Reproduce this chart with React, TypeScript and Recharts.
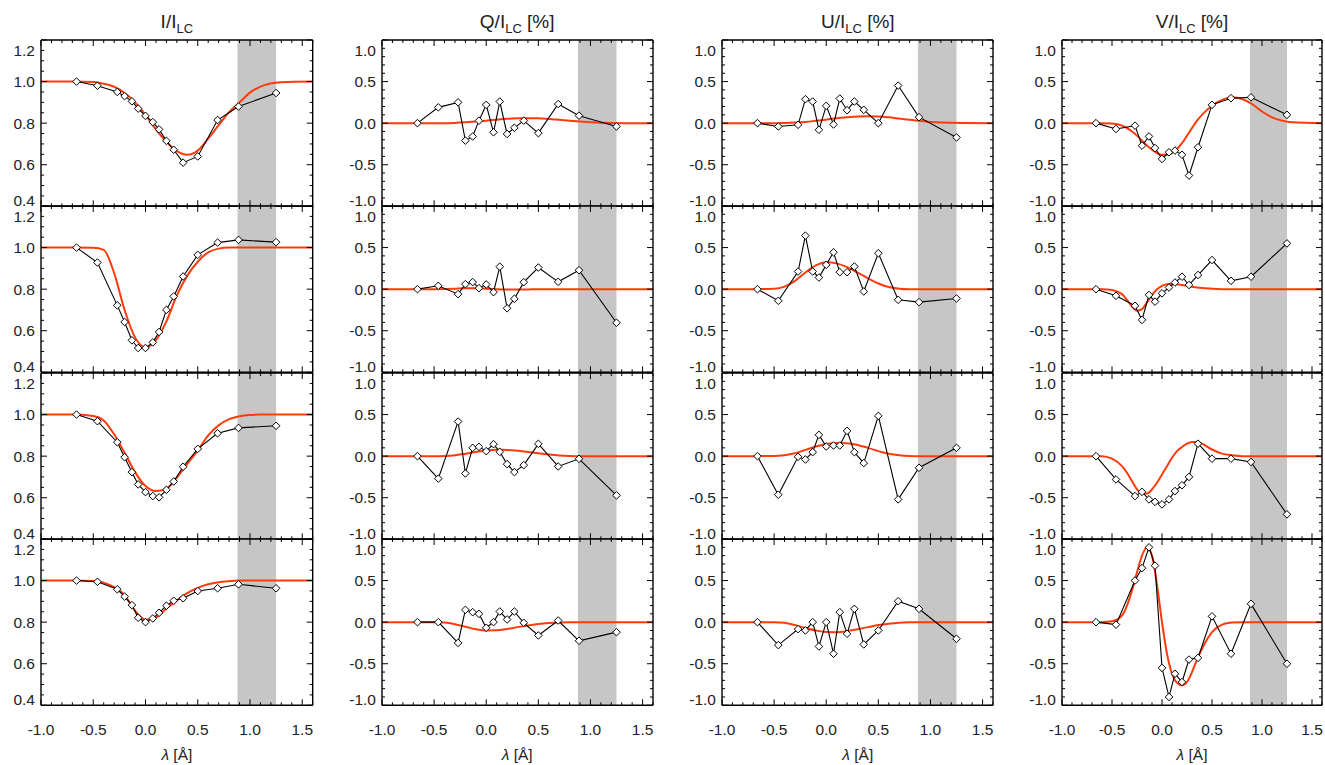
import React from 'react';
import { ComposedChart, Line, XAxis, YAxis, ReferenceArea } from 'recharts';

// ---------- data ----------
const LAMBDA = [-0.66, -0.46, -0.27, -0.2, -0.13, -0.07, 0.0, 0.07, 0.13, 0.2, 0.27, 0.36, 0.5, 0.69, 0.89, 1.25];
const FIT_X = [-1.0, -0.7, -0.5, -0.4, -0.3, -0.2, -0.1, 0.0, 0.1, 0.2, 0.3, 0.4, 0.5, 0.6, 0.7, 0.8, 0.9, 1.0, 1.1, 1.3, 1.6];
const FIT_XV = [-1.0, -0.6, -0.5, -0.4, -0.35, -0.3, -0.25, -0.2, -0.15, -0.1, -0.05, 0, 0.05, 0.1, 0.15, 0.2, 0.25, 0.3, 0.35, 0.4, 0.5, 0.6, 0.7, 0.8, 0.9, 1.0, 1.1, 1.2, 1.3, 1.6];

const I_OBS_1 = [1.0, 0.98, 0.95, 0.93, 0.905, 0.87, 0.835, 0.805, 0.77, 0.715, 0.672, 0.61, 0.64, 0.815, 0.88, 0.945];
const I_OBS_2 = [1.0, 0.928, 0.722, 0.642, 0.554, 0.517, 0.517, 0.544, 0.594, 0.7, 0.765, 0.861, 0.965, 1.024, 1.037, 1.026];
const I_OBS_3 = [1.0, 0.968, 0.867, 0.795, 0.723, 0.664, 0.627, 0.608, 0.602, 0.638, 0.678, 0.749, 0.835, 0.91, 0.936, 0.946];
const I_OBS_4 = [1.0, 0.994, 0.958, 0.923, 0.882, 0.821, 0.8, 0.818, 0.845, 0.879, 0.903, 0.915, 0.95, 0.963, 0.982, 0.963];

const I_FIT_1 = [1.0, 1.0, 0.998, 0.99, 0.975, 0.945, 0.9, 0.84, 0.77, 0.71, 0.665, 0.648, 0.668, 0.725, 0.79, 0.853, 0.9, 0.947, 0.976, 0.997, 1.0];
const I_FIT_2 = [1.0, 1.0, 0.999, 0.989, 0.877, 0.7, 0.568, 0.52, 0.555, 0.645, 0.77, 0.865, 0.932, 0.977, 0.995, 1.0, 1.0, 1.0, 1.0, 1.0, 1.0];
const I_FIT_3 = [1.0, 1.0, 0.993, 0.972, 0.905, 0.816, 0.723, 0.656, 0.632, 0.643, 0.697, 0.763, 0.827, 0.9, 0.948, 0.978, 0.992, 0.998, 1.0, 1.0, 1.0];
const I_FIT_4 = [1.0, 1.0, 0.998, 0.99, 0.968, 0.93, 0.855, 0.812, 0.822, 0.866, 0.905, 0.94, 0.965, 0.982, 0.992, 0.997, 1.0, 1.0, 1.0, 1.0, 1.0];

const Q_OBS_1 = [0.0, 0.19, 0.25, -0.21, -0.16, 0.03, 0.22, -0.11, 0.26, -0.13, -0.056, 0.03, -0.12, 0.23, 0.09, -0.04];
const Q_OBS_2 = [0.0, 0.04, -0.06, 0.06, 0.085, 0.012, 0.056, -0.036, 0.27, -0.23, -0.116, 0.084, 0.26, 0.088, 0.228, -0.404];
const Q_OBS_3 = [0.0, -0.27, 0.416, -0.208, 0.1, 0.112, 0.06, 0.144, 0.052, -0.096, -0.192, -0.108, 0.148, -0.124, -0.032, -0.472];
const Q_OBS_4 = [0.0, 0.0, -0.25, 0.148, 0.12, 0.1, -0.068, 0.0, 0.128, 0.032, 0.128, -0.008, -0.16, 0.02, -0.224, -0.12];

const Q_FIT_1 = [0, 0, 0, 0, 0.003, 0.01, 0.02, 0.03, 0.042, 0.052, 0.058, 0.06, 0.058, 0.05, 0.04, 0.03, 0.02, 0.01, 0.004, 0, 0];
const Q_FIT_2 = [0, 0, 0, 0.002, 0.006, 0.01, 0.01, 0.006, 0.0, -0.004, -0.005, -0.003, -0.001, 0, 0, 0, 0, 0, 0, 0, 0];
const Q_FIT_3 = [0, 0, 0, 0.003, 0.012, 0.03, 0.05, 0.068, 0.076, 0.075, 0.065, 0.05, 0.036, 0.02, 0.008, 0.002, 0, 0, 0, 0, 0];
const Q_FIT_4 = [0, 0, 0, -0.005, -0.025, -0.055, -0.085, -0.1, -0.098, -0.082, -0.06, -0.04, -0.022, -0.01, -0.003, 0, 0, 0, 0, 0, 0];

const U_OBS_1 = [0.0, -0.04, -0.02, 0.288, 0.26, -0.08, 0.208, -0.016, 0.296, 0.156, 0.26, 0.16, 0.0, 0.452, 0.072, -0.172];
const U_OBS_2 = [0.0, -0.14, 0.212, 0.644, 0.212, 0.14, 0.292, 0.444, 0.204, 0.204, 0.272, -0.028, 0.432, -0.128, -0.156, -0.112];
const U_OBS_3 = [0.0, -0.464, -0.008, -0.04, 0.048, 0.256, 0.116, 0.128, 0.128, 0.304, 0.048, -0.084, 0.484, -0.52, -0.14, 0.1];
const U_OBS_4 = [0.0, -0.276, -0.084, -0.1, 0.0, -0.292, 0.0, -0.38, 0.12, -0.14, 0.16, -0.268, -0.1, 0.252, 0.16, -0.2];

const U_FIT_1 = [0, 0, 0, 0.003, 0.008, 0.015, 0.028, 0.042, 0.058, 0.07, 0.08, 0.082, 0.08, 0.07, 0.055, 0.04, 0.028, 0.015, 0.007, 0.001, 0];
const U_FIT_2 = [0, 0, 0.004, 0.03, 0.1, 0.2, 0.285, 0.324, 0.31, 0.265, 0.2, 0.13, 0.068, 0.025, 0.006, 0, 0, 0, 0, 0, 0];
const U_FIT_3 = [0, 0, 0.002, 0.012, 0.035, 0.075, 0.115, 0.145, 0.157, 0.155, 0.135, 0.1, 0.06, 0.028, 0.01, 0.002, 0, 0, 0, 0, 0];
const U_FIT_4 = [0, 0, 0, -0.008, -0.035, -0.07, -0.1, -0.118, -0.12, -0.108, -0.085, -0.06, -0.035, -0.018, -0.007, -0.002, 0, 0, 0, 0, 0];

const V_OBS_1 = [0.0, -0.07, -0.03, -0.27, -0.16, -0.3, -0.43, -0.35, -0.33, -0.38, -0.63, -0.29, 0.22, 0.3, 0.31, 0.1];
const V_OBS_2 = [0.0, -0.08, -0.2, -0.37, -0.07, -0.15, -0.05, 0.02, 0.08, 0.15, 0.05, 0.17, 0.35, 0.1, 0.15, 0.55];
const V_OBS_3 = [0.0, -0.28, -0.48, -0.43, -0.52, -0.55, -0.58, -0.52, -0.42, -0.35, -0.25, 0.15, -0.03, -0.03, -0.07, -0.7];
const V_OBS_4 = [0.0, -0.03, 0.5, 0.65, 0.9, 0.68, -0.55, -0.9, -0.62, -0.72, -0.45, -0.43, 0.07, -0.38, 0.22, -0.5];

const V_FIT_1 = [0, 0, -0.005, -0.03, -0.06, -0.1, -0.15, -0.21, -0.27, -0.32, -0.36, -0.38, -0.38, -0.36, -0.31, -0.24, -0.15, -0.06, 0.03, 0.1, 0.21, 0.28, 0.31, 0.29, 0.23, 0.14, 0.07, 0.03, 0.01, 0];
const V_FIT_2 = [0, 0, -0.01, -0.06, -0.13, -0.21, -0.26, -0.24, -0.16, -0.07, 0.0, 0.04, 0.06, 0.065, 0.06, 0.05, 0.04, 0.03, 0.02, 0.015, 0.005, 0, 0, 0, 0, 0, 0, 0, 0, 0];
const V_FIT_3 = [0, 0, -0.03, -0.12, -0.2, -0.3, -0.4, -0.45, -0.45, -0.4, -0.32, -0.22, -0.12, -0.02, 0.06, 0.11, 0.15, 0.17, 0.17, 0.15, 0.08, 0.03, 0.01, 0, 0, 0, 0, 0, 0, 0];
const V_FIT_4 = [0, 0, 0.01, 0.08, 0.2, 0.38, 0.6, 0.8, 0.9, 0.8, 0.45, 0.0, -0.38, -0.62, -0.73, -0.76, -0.72, -0.6, -0.45, -0.32, -0.12, -0.03, -0.005, 0, 0, 0, 0, 0, 0, 0];

const BAND = [0.88, 1.25];
const X_DOMAIN = [-1.0, 1.6];
const X_TICKS = [-1.0, -0.9, -0.8, -0.7, -0.6, -0.5, -0.4, -0.3, -0.2, -0.1, 0.0, 0.1, 0.2, 0.3, 0.4, 0.5, 0.6, 0.7, 0.8, 0.9, 1.0, 1.1, 1.2, 1.3, 1.4, 1.5, 1.6];
const Y_TICKS_I = [0.4, 0.45, 0.5, 0.55, 0.6, 0.65, 0.7, 0.75, 0.8, 0.85, 0.9, 0.95, 1.0, 1.05, 1.1, 1.15, 1.2];
const Y_TICKS_P = [-1.0, -0.9, -0.8, -0.7, -0.6, -0.5, -0.4, -0.3, -0.2, -0.1, 0.0, 0.1, 0.2, 0.3, 0.4, 0.5, 0.6, 0.7, 0.8, 0.9, 1.0];

const TITLES = [
  { main: 'I/I', sub: 'LC', tail: '' },
  { main: 'Q/I', sub: 'LC', tail: ' [%]' },
  { main: 'U/I', sub: 'LC', tail: ' [%]' },
  { main: 'V/I', sub: 'LC', tail: ' [%]' },
];

// ---------- layout ----------
const COL_LEFT = [41, 381.7, 722.3, 1062];
const COL_RIGHT = [312.7, 652.7, 993.3, 1322];
const ROW_TOP = [40, 206.3, 372.6, 538.9];
const ROW_H = 166.3;
const FONT = "'Liberation Sans', Arial, Helvetica, sans-serif";
const RED = '#ff3b0b';
const LABEL_SIZE = 15.5;

const pts = (xs: number[], ys: number[]) => xs.map((x, i) => ({ x, y: ys[i] }));
const isMajor = (v: number, step: number) => Math.abs(v / step - Math.round(v / step)) < 1e-6;

const COLUMNS = [
  { obs: [I_OBS_1, I_OBS_2, I_OBS_3, I_OBS_4], fit: [I_FIT_1, I_FIT_2, I_FIT_3, I_FIT_4], fx: FIT_X, domain: [0.4, 1.2], ticks: Y_TICKS_I, step: 0.2 },
  { obs: [Q_OBS_1, Q_OBS_2, Q_OBS_3, Q_OBS_4], fit: [Q_FIT_1, Q_FIT_2, Q_FIT_3, Q_FIT_4], fx: FIT_X, domain: [-1, 1], ticks: Y_TICKS_P, step: 0.5 },
  { obs: [U_OBS_1, U_OBS_2, U_OBS_3, U_OBS_4], fit: [U_FIT_1, U_FIT_2, U_FIT_3, U_FIT_4], fx: FIT_X, domain: [-1, 1], ticks: Y_TICKS_P, step: 0.5 },
  { obs: [V_OBS_1, V_OBS_2, V_OBS_3, V_OBS_4], fit: [V_FIT_1, V_FIT_2, V_FIT_3, V_FIT_4], fx: FIT_XV, domain: [-1, 1], ticks: Y_TICKS_P, step: 0.5 },
];

const XTick = (props: any) => {
  const { x, y, payload, side, showLabel } = props;
  const v = payload.value;
  const major = isMajor(v, 0.5);
  const len = major ? 6 : 3;
  const dir = side === 'bottom' ? -1 : 1;
  return (
    <g>
      <line x1={x} y1={y} x2={x} y2={y + dir * len} stroke="#000" strokeWidth={1} />
      {showLabel && major && side === 'bottom' ? (
        <text x={x} y={y + 30} textAnchor="middle" fontSize={LABEL_SIZE} fill="#222" fontFamily={FONT}>
          {v.toFixed(1)}
        </text>
      ) : null}
    </g>
  );
};

const YTick = (props: any) => {
  const { x, y, payload, side, step, min, max } = props;
  const v = payload.value;
  const major = isMajor(v, step);
  const len = major ? 6 : 3;
  const dir = side === 'left' ? 1 : -1;
  let shift = 0;
  if (Math.abs(v - max) < 1e-6) shift = 10;
  else if (Math.abs(v - min) < 1e-6) shift = -6;
  return (
    <g>
      <line x1={x} y1={y} x2={x + dir * len} y2={y} stroke="#000" strokeWidth={1} />
      {side === 'left' && major ? (
        <text x={x - 6} y={y + shift} dy="0.36em" textAnchor="end" fontSize={LABEL_SIZE} fill="#222" fontFamily={FONT}>
          {v.toFixed(1)}
        </text>
      ) : null}
    </g>
  );
};

const Diamond = (props: any) => {
  const { cx, cy, index } = props;
  if (cx == null || cy == null) return <g key={`d${index}`} />;
  const r = 3.8;
  return (
    <path
      key={`d${index}`}
      d={`M${cx},${cy - r}L${cx + r},${cy}L${cx},${cy + r}L${cx - r},${cy}Z`}
      fill="#fff"
      stroke="#000"
      strokeWidth={1}
    />
  );
};

const ML = 48, MR = 8, MT = 12;
const AX = 1; // axis thickness reserved by each axis

function Panel({ col, row }: { col: number; row: number }) {
  const c = COLUMNS[col];
  const left = COL_LEFT[col];
  const width = COL_RIGHT[col] - COL_LEFT[col];
  const top = ROW_TOP[row];
  const MB = row === 3 ? 40 : 12;
  const obsData = pts(LAMBDA, c.obs[row]);
  const fitData = pts(c.fx, c.fit[row]);
  const [ymin, ymax] = c.domain;
  const axisLine = { stroke: '#000', strokeWidth: 1.4 };
  return (
    <div style={{ position: 'absolute', left: left - ML, top: top - MT }}>
      <ComposedChart width={width + ML + MR} height={ROW_H + MT + MB}
        margin={{ top: MT - AX, right: MR - AX, bottom: MB - AX, left: ML - AX }}>
        <XAxis xAxisId="b" type="number" dataKey="x" domain={X_DOMAIN} allowDataOverflow ticks={X_TICKS} interval={0}
          orientation="bottom" height={AX} tickSize={0} tickMargin={0} tickLine={false} axisLine={axisLine}
          tick={(p: any) => <XTick {...p} side="bottom" showLabel={row === 3} />} />
        <XAxis xAxisId="t" type="number" dataKey="x" domain={X_DOMAIN} allowDataOverflow ticks={X_TICKS} interval={0}
          orientation="top" height={AX} tickSize={0} tickMargin={0} tickLine={false} axisLine={axisLine}
          tick={(p: any) => <XTick {...p} side="top" showLabel={false} />} />
        <YAxis yAxisId="l" type="number" dataKey="y" domain={c.domain} allowDataOverflow ticks={c.ticks} interval={0}
          orientation="left" width={AX} tickSize={0} tickMargin={0} tickLine={false} axisLine={axisLine}
          tick={(p: any) => <YTick {...p} side="left" step={c.step} min={ymin} max={ymax} />} />
        <YAxis yAxisId="r" type="number" dataKey="y" domain={c.domain} allowDataOverflow ticks={c.ticks} interval={0}
          orientation="right" width={AX} tickSize={0} tickMargin={0} tickLine={false} axisLine={axisLine}
          tick={(p: any) => <YTick {...p} side="right" step={c.step} min={ymin} max={ymax} />} />
        <ReferenceArea xAxisId="b" yAxisId="l" x1={BAND[0]} x2={BAND[1]} y1={ymin} y2={ymax} fill="#c6c6c6" fillOpacity={1} stroke="none" ifOverflow="hidden" />
        <Line xAxisId="b" yAxisId="l" data={fitData} dataKey="y" type="monotone" stroke={RED} strokeWidth={2}
          dot={false} activeDot={false} isAnimationActive={false} />
        <Line xAxisId="b" yAxisId="l" data={obsData} dataKey="y" type="linear" stroke="#000" strokeWidth={1.1}
          dot={(p: any) => <Diamond {...p} />} activeDot={false} isAnimationActive={false} />
      </ComposedChart>
    </div>
  );
}

export default function App() {
  const panels = [];
  for (let col = 0; col < 4; col++) {
    for (let row = 0; row < 4; row++) {
      panels.push(<Panel key={`${col}-${row}`} col={col} row={row} />);
    }
  }
  return (
    <div style={{ position: 'absolute', left: 0, top: 0, width: 1325, height: 765, background: '#fff', overflow: 'hidden' }}>
      {panels}
      <svg width={1325} height={765} style={{ position: 'absolute', left: 0, top: 0, pointerEvents: 'none' }}>
        {TITLES.map((t, i) => {
          const cx = (COL_LEFT[i] + COL_RIGHT[i]) / 2;
          return (
            <text key={`t${i}`} x={cx} y={28} textAnchor="middle" fontSize={19} fill="#222" fontFamily={FONT}>
              {t.main}
              <tspan dy={5} fontSize={13}>{t.sub}</tspan>
              {t.tail ? <tspan dy={-5} fontSize={19}>{t.tail}</tspan> : null}
            </text>
          );
        })}
        {COL_LEFT.map((l, i) => {
          const cx = (l + COL_RIGHT[i]) / 2;
          return (
            <text key={`x${i}`} x={cx} y={760} textAnchor="middle" fontSize={15.5} fill="#222" fontFamily={FONT}>
              <tspan fontStyle="italic">λ</tspan> [Å]
            </text>
          );
        })}
      </svg>
    </div>
  );
}
